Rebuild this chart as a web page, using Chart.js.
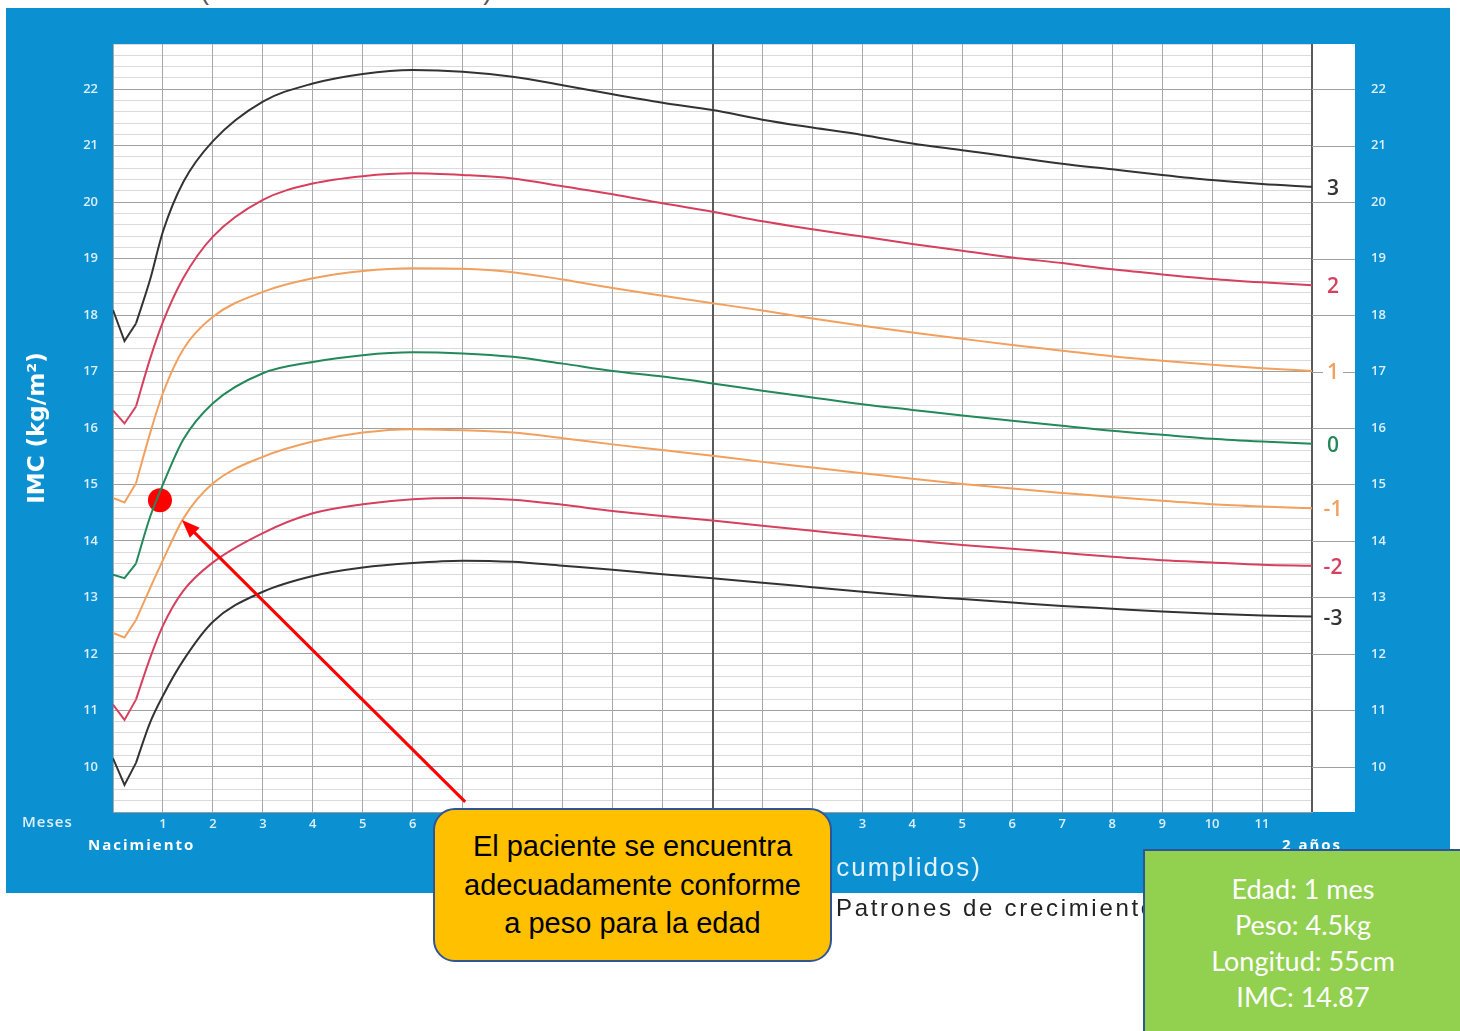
<!DOCTYPE html>
<html>
<head>
<meta charset="utf-8">
<title>IMC para la edad</title>
<script src="https://cdn.jsdelivr.net/npm/chart.js@4.4.1/dist/chart.umd.min.js"></script>
<style>
    html, body { margin: 0; padding: 0; background: #fff; }
    body { width: 1460px; height: 1031px; position: relative; overflow: hidden; font-family: "Liberation Sans", Arial, sans-serif; }
    #panel { position: absolute; left: 6px; top: 8px; width: 1444px; height: 885px; background: #0b90d2; }
    #topText { position: absolute; left: 200px; top: -25px; font-size: 27px; color: #555; letter-spacing: 1.4px; white-space: nowrap; }
    #chart { position: absolute; left: 0; top: 0; }
    #edadText { position: absolute; right: 478px; top: 852px; font-size: 26px; color: #e4f2fb; letter-spacing: 2px; white-space: nowrap; }
    #patrones { position: absolute; left: 836px; top: 894px; font-size: 24px; color: #222; letter-spacing: 2.7px; white-space: nowrap; }
    .callout { position: absolute; left: 433px; top: 808px; width: 399px; height: 154px; box-sizing: border-box;
               background: #ffc000; border: 2.5px solid #2f5597; border-radius: 22px;
               display: flex; align-items: center; justify-content: center; text-align: center;
               font-size: 29px; line-height: 38.5px; color: #000; }
    .info { position: absolute; left: 1143px; top: 849px; width: 320px; height: 200px; box-sizing: border-box;
            background: #92d050; border: 2px solid #2f5597; padding-top: 20px; text-align: center;
            font-family: Lato, "Open Sans", sans-serif; font-size: 27px; line-height: 36px; color: #fff; }
</style>
</head>
<body>
<div id="panel"></div>
<div id="topText">(Nacimiento a 2 años)</div>
<canvas id="chart" width="1460" height="1031"></canvas>
<div id="edadText">Edad (en meses y años cumplidos)</div>
<div id="patrones">Patrones de crecimiento infantil de la OMS</div>
<div class="callout">El paciente se encuentra<br>adecuadamente conforme<br>a peso para la edad</div>
<div class="info">Edad: 1 mes<br>Peso: 4.5kg<br>Longitud: 55cm<br>IMC: 14.87</div>

<script>
// edad en meses
const ages = [0, 0.23, 0.46, 0.74, 1, 1.41, 2, 3, 4, 5, 6, 7, 8, 9, 10, 11, 12,
              13, 14, 15, 16, 17, 18, 19, 20, 21, 22, 23, 24];

// IMC por puntuación Z
const zPlus3 = [18.09, 17.54, 17.85, 18.62, 19.48, 20.36, 21.08, 21.78, 22.10, 22.27, 22.34, 22.31, 22.22, 22.07, 21.91, 21.76, 21.63,
                21.46, 21.32, 21.19, 21.04, 20.92, 20.80, 20.68, 20.58, 20.48, 20.39, 20.32, 20.27];
const zPlus2 = [16.31, 16.08, 16.38, 17.22, 17.88, 18.66, 19.39, 20.04, 20.33, 20.46, 20.51, 20.48, 20.42, 20.28, 20.14, 19.98, 19.83,
                19.66, 19.52, 19.39, 19.26, 19.14, 19.02, 18.92, 18.81, 18.72, 18.64, 18.58, 18.53];
const zPlus1 = [14.76, 14.68, 15.02, 15.90, 16.62, 17.40, 17.97, 18.41, 18.65, 18.78, 18.83, 18.82, 18.76, 18.63, 18.48, 18.34, 18.21,
                18.08, 17.94, 17.81, 17.69, 17.58, 17.47, 17.37, 17.27, 17.19, 17.12, 17.06, 17.01];
const zZero = [13.40, 13.34, 13.60, 14.42, 15.00, 15.80, 16.44, 16.97, 17.17, 17.29, 17.34, 17.32, 17.26, 17.14, 17.01, 16.91, 16.79,
               16.66, 16.54, 16.42, 16.32, 16.22, 16.13, 16.04, 15.95, 15.88, 15.81, 15.76, 15.72];
const zMinus1 = [12.37, 12.29, 12.60, 13.16, 13.66, 14.40, 15.02, 15.49, 15.76, 15.92, 15.98, 15.96, 15.92, 15.82, 15.71, 15.61, 15.51,
                 15.40, 15.30, 15.20, 15.10, 15.01, 14.93, 14.85, 14.78, 14.71, 14.65, 14.61, 14.58];
const zMinus2 = [11.10, 10.83, 11.19, 11.92, 12.50, 13.12, 13.62, 14.14, 14.49, 14.65, 14.74, 14.76, 14.73, 14.64, 14.53, 14.44, 14.36,
                 14.27, 14.18, 14.09, 14.01, 13.93, 13.86, 13.79, 13.72, 13.66, 13.62, 13.58, 13.56];
const zMinus3 = [10.15, 9.68, 10.07, 10.78, 11.26, 11.89, 12.57, 13.10, 13.38, 13.53, 13.61, 13.65, 13.63, 13.56, 13.49, 13.41, 13.34,
                 13.26, 13.18, 13.10, 13.03, 12.97, 12.91, 12.85, 12.80, 12.75, 12.71, 12.68, 12.66];

const zLabels = ['3', '2', '1', '0', '-1', '-2', '-3'];

// paciente
const patientAge = [0.94];
const patientImc = [14.72];

// flecha (coordenadas de datos)
const arrowFrom = { x: 7.05, y: 9.38 };
const arrowTo = { x: 1.38, y: 14.37 };

const curves = [zPlus3, zPlus2, zPlus1, zZero, zMinus1, zMinus2, zMinus3];
const colors = ['#333333', '#d6405e', '#f2a05e', '#23895a', '#f2a05e', '#d6405e', '#333333'];

const isInt = v => Math.abs(v - Math.round(v)) < 1e-6;

// the first weeks are a polyline, the rest a smooth curve
const datasets = [];
curves.forEach((vals, i) => {
    const pts = ages.map((a, k) => ({ x: a, y: vals[k] }));
    datasets.push({
        data: pts.slice(0, 3),
        borderColor: colors[i],
        borderWidth: 2,
        tension: 0,
        pointRadius: 0
    });
    datasets.push({
        data: pts.slice(2),
        borderColor: colors[i],
        borderWidth: 2,
        cubicInterpolationMode: 'monotone',
        pointRadius: 0
    });
});
datasets.push({
    type: 'scatter',
    data: patientAge.map((a, k) => ({ x: a, y: patientImc[k] })),
    backgroundColor: '#ff0000',
    borderWidth: 0,
    pointRadius: 12
});

const tickColor = '#ddeffb';
const tickFont = { family: 'Open Sans', weight: '600', size: 13 };

// keep the tick padding from pushing the plot area down
const fitWidth = w => s => { s.width = w; s.paddingTop = 0; s.paddingBottom = 0; };

const chartDecor = {
    id: 'chartDecor',
    beforeDraw(chart) {
        const { ctx, chartArea: a } = chart;
        ctx.save();
        ctx.fillStyle = '#fff';
        ctx.fillRect(a.left, a.top, a.right - a.left + 43, a.bottom - a.top);
        ctx.restore();
    },
    beforeDatasetsDraw(chart) {
        const { ctx, chartArea: a, scales: { y } } = chart;
        ctx.save();
        ctx.strokeStyle = '#a0a0a0';
        ctx.lineWidth = 1;
        for (let v = 10; v <= 22; v++) {
            const py = Math.round(y.getPixelForValue(v)) + 0.5;
            ctx.beginPath();
            ctx.moveTo(a.right, py);
            ctx.lineTo(a.right + 43, py);
            ctx.stroke();
        }
        ctx.restore();
    },
    afterDatasetsDraw(chart) {
        const { ctx, chartArea: a, scales: { x, y } } = chart;
        ctx.save();

        // z labels at the end of each curve
        ctx.font = '600 21px "Open Sans"';
        ctx.textAlign = 'center';
        ctx.textBaseline = 'middle';
        curves.forEach((vals, i) => {
            const py = y.getPixelForValue(vals[vals.length - 1]) + 2;
            const w = ctx.measureText(zLabels[i]).width + 8;
            ctx.fillStyle = '#fff';
            ctx.fillRect(a.right + 21 - w / 2, py - 12, w, 24);
            ctx.fillStyle = colors[i];
            ctx.fillText(zLabels[i], a.right + 21, py);
        });

        // arrow
        const x0 = x.getPixelForValue(arrowFrom.x), y0 = y.getPixelForValue(arrowFrom.y);
        const x1 = x.getPixelForValue(arrowTo.x), y1 = y.getPixelForValue(arrowTo.y);
        const ang = Math.atan2(y1 - y0, x1 - x0);
        const head = 18;
        ctx.strokeStyle = '#ff0000';
        ctx.fillStyle = '#ff0000';
        ctx.lineWidth = 3;
        ctx.beginPath();
        ctx.moveTo(x0, y0);
        ctx.lineTo(x1 - Math.cos(ang) * (head - 2), y1 - Math.sin(ang) * (head - 2));
        ctx.stroke();
        ctx.beginPath();
        ctx.moveTo(x1, y1);
        ctx.lineTo(x1 - head * Math.cos(ang) + 7 * Math.sin(ang), y1 - head * Math.sin(ang) - 7 * Math.cos(ang));
        ctx.lineTo(x1 - head * Math.cos(ang) - 7 * Math.sin(ang), y1 - head * Math.sin(ang) + 7 * Math.cos(ang));
        ctx.closePath();
        ctx.fill();
        ctx.restore();
    },
    afterDraw(chart) {
        const { ctx, scales: { x } } = chart;
        ctx.save();
        ctx.textBaseline = 'middle';
        ctx.fillStyle = tickColor;
        ctx.font = '600 15px "Open Sans"';
        ctx.letterSpacing = '1px';
        ctx.textAlign = 'left';
        ctx.fillText('Meses', 22, 823);
        ctx.fillStyle = '#fff';
        ctx.font = 'bold 15px "Open Sans"';
        ctx.letterSpacing = '2px';
        ctx.fillText('Nacimiento', 88, 846);
        ctx.textAlign = 'center';
        ctx.fillText('1 año', x.getPixelForValue(12), 846);
        ctx.fillText('2 años', x.getPixelForValue(24), 846);
        ctx.restore();
    }
};

Chart.defaults.font.family = 'Open Sans';

new Chart(document.getElementById('chart'), {
    type: 'line',
    data: { datasets: datasets },
    options: {
        responsive: false,
        animation: false,
        events: [],
        layout: { padding: { top: 44, left: 0, right: 0, bottom: 0 } },
        plugins: { legend: { display: false }, tooltip: { enabled: false } },
        scales: {
            x: {
                type: 'linear',
                min: 0,
                max: 24,
                afterFit: s => { s.height = 219; },
                border: { display: true, color: '#9a9a9a' },
                grid: {
                    z: -1,
                    drawTicks: false,
                    color: c => (c.tick.value === 12 || c.tick.value === 24) ? '#5a5a5a' : '#a8a8a8',
                    lineWidth: c => (c.tick.value === 12 || c.tick.value === 24) ? 2 : 1
                },
                ticks: {
                    stepSize: 1,
                    autoSkip: false,
                    maxRotation: 0,
                    padding: 4,
                    color: tickColor,
                    font: tickFont,
                    callback: v => (v === 0 || v === 12 || v === 24) ? '' : (v > 12 ? v - 12 : v)
                }
            },
            y: {
                position: 'left',
                min: 9.2,
                max: 22.8,
                afterFit: fitWidth(113),
                border: { display: false },
                grid: {
                    z: -2,
                    drawTicks: false,
                    color: c => isInt(c.tick.value) ? '#a0a0a0' : '#dadada'
                },
                ticks: {
                    stepSize: 0.2,
                    autoSkip: false,
                    padding: 15,
                    color: tickColor,
                    font: tickFont,
                    callback: v => isInt(v) ? Math.round(v) : ''
                },
                title: {
                    display: true,
                    text: 'IMC (kg/m²)',
                    color: '#fff',
                    font: { family: 'DejaVu Sans', weight: 'bold', size: 23 },
                    padding: { top: 24, bottom: 0 }
                }
            },
            y2: {
                position: 'right',
                min: 9.2,
                max: 22.8,
                afterFit: fitWidth(148),
                border: { display: false },
                grid: { display: false, drawTicks: false },
                ticks: {
                    stepSize: 0.2,
                    autoSkip: false,
                    padding: 59,
                    color: tickColor,
                    font: tickFont,
                    callback: v => isInt(v) ? Math.round(v) : ''
                }
            }
        }
    },
    plugins: [chartDecor]
});
</script>
</body>
</html>
